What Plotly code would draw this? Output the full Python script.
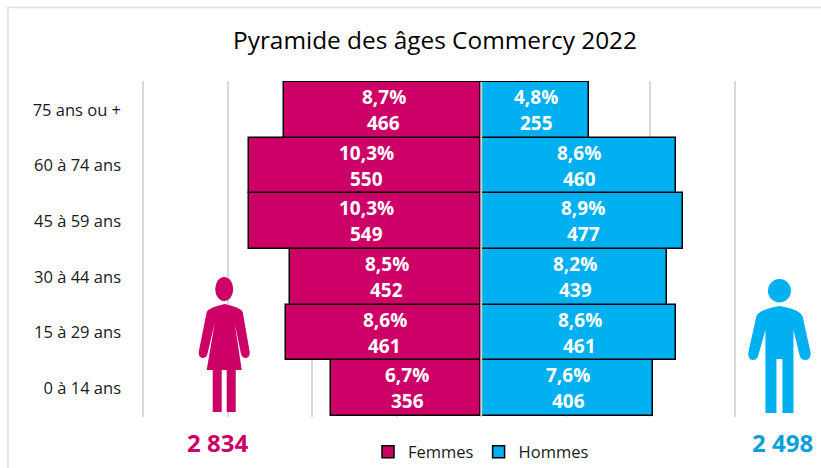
import re
import plotly.graph_objects as go

W, H = 821, 468
L, R, T, B = 141.4, 736.6, 81, 417

categories = ["0 à 14 ans", "15 à 29 ans", "30 à 44 ans", "45 à 59 ans", "60 à 74 ans", "75 ans ou +"]
femmes = [356, 461, 452, 549, 550, 466]
hommes = [406, 461, 439, 477, 460, 255]
femmes_pct = ["6,7%", "8,6%", "8,5%", "10,3%", "10,3%", "8,7%"]
hommes_pct = ["7,6%", "8,6%", "8,2%", "8,9%", "8,6%", "4,8%"]
total_femmes = "2 834"
total_hommes = "2 498"
title = "Pyramide des âges Commercy 2022"

ROSE, BLEU = "#CC0066", "#00B0F0"
FONT = "Open Sans"


def px(x):
    return (x - L) / (R - L)


def py(y):
    return (B - y) / (B - T)


def paper_path(p):
    # icon outlines are drawn in picture pixels, converted to paper space
    return re.sub(r"(-?[\d.]+),(-?[\d.]+)", lambda m: f"{px(float(m[1])):.5f},{py(float(m[2])):.5f}", p)


fig = go.Figure()
fig.add_bar(y=categories, x=[-v for v in femmes], name="Femmes", orientation="h", cliponaxis=False,
            marker=dict(color=ROSE, line=dict(color="black", width=1.5)), hoverinfo="skip")
fig.add_bar(y=categories, x=hommes, name="Hommes", orientation="h", cliponaxis=False,
            marker=dict(color=BLEU, line=dict(color="black", width=1.5)), hoverinfo="skip")

annotations = []
for cat, f, h, fp, hp in zip(categories, femmes, hommes, femmes_pct, hommes_pct):
    for x, a, b in ((-f / 2, fp, f), (h / 2, hp, h)):
        annotations.append(dict(x=x, y=cat, xref="x", yref="y", text=f"<b>{a}</b>", showarrow=False,
                                yshift=13, xshift=1, font=dict(family=FONT, size=19, color="white")))
        annotations.append(dict(x=x, y=cat, xref="x", yref="y", text=f"<b>{b}</b>", showarrow=False,
                                yshift=-13, xshift=1, font=dict(family=FONT, size=19, color="white")))
annotations.append(dict(x=px(218), y=py(442), xref="paper", yref="paper", xanchor="center", yanchor="middle",
                        text=f"<b>{total_femmes}</b>", showarrow=False,
                        font=dict(family=FONT, size=24, color=ROSE)))
annotations.append(dict(x=px(782), y=py(442), xref="paper", yref="paper", xanchor="center", yanchor="middle",
                        text=f"<b>{total_hommes}</b>", showarrow=False,
                        font=dict(family=FONT, size=24, color="#0F9EDC")))

WOMAN = ("M 207,312 Q 210,307 225,304 Q 240,307 243,312 L 250,352 Q 250,358 246,358 Q 242,358 241,353 "
         "L 235,323 L 242,370 L 236,370 L 236,412 L 227,412 L 227,370 L 222,370 L 222,412 L 213,412 "
         "L 213,370 L 207,370 L 215,323 L 208,353 Q 207,358 203,358 Q 199,358 199,352 Z")
MAN = ("M 756,316 Q 760,309 779,306 Q 798,309 802,316 L 810,352 Q 811,359 805,360 Q 800,360 799,355 "
       "L 793,330 L 793,413 L 782,413 L 782,359 L 776,359 L 776,413 L 765,413 L 765,330 L 758,355 "
       "Q 757,360 752,360 Q 747,359 748,352 Z")

shapes = [
    # outer frame
    dict(type="line", xref="paper", yref="paper", x0=px(8), x1=px(W), y0=py(7.5), y1=py(7.5),
         line=dict(color="#DEDEDE", width=1.5)),
    dict(type="line", xref="paper", yref="paper", x0=px(8.5), x1=px(8.5), y0=py(7), y1=py(H),
         line=dict(color="#DEDEDE", width=1.5)),
    # central axis
    dict(type="line", xref="x", yref="paper", x0=0, x1=0, y0=py(416), y1=py(82), layer="above",
         line=dict(color="#D0D0D0", width=2)),
    # pictograms
    dict(type="circle", xref="paper", yref="paper", x0=px(215.5), x1=px(233.5), y0=py(277), y1=py(301),
         fillcolor=ROSE, line_width=0),
    dict(type="path", xref="paper", yref="paper", path=paper_path(WOMAN), fillcolor=ROSE, line_width=0),
    dict(type="circle", xref="paper", yref="paper", x0=px(767.5), x1=px(790.5), y0=py(279), y1=py(302.5),
         fillcolor=BLEU, line_width=0),
    dict(type="path", xref="paper", yref="paper", path=paper_path(MAN), fillcolor=BLEU, line_width=0),
]

fig.update_layout(
    width=W, height=H,
    margin=dict(l=L, r=W - R, t=T, b=H - B, pad=0, autoexpand=False),
    paper_bgcolor="white", plot_bgcolor="white",
    barmode="relative", bargap=0,
    font=dict(family=FONT, color="#1a1a1a"),
    title=dict(text=title, x=435 / W, xanchor="center", y=1 - 40 / H, yanchor="middle",
               font=dict(family=FONT, size=24.4, color="black")),
    xaxis=dict(range=[-805, 605], dtick=200, tick0=0, showticklabels=False, ticks="",
               showgrid=True, gridcolor="#D9D9D9", gridwidth=1.5, zeroline=False, showline=False),
    yaxis=dict(categoryorder="array", categoryarray=categories, range=[-0.518, 5.518], ticks="",
               showgrid=False, zeroline=False, showline=False, ticklabelstandoff=19,
               tickfont=dict(family=FONT, size=16.5, color="#1a1a1a")),
    legend=dict(orientation="h", xref="container", yref="container", x=368 / W, xanchor="left",
                y=1 - 452 / H, yanchor="middle",
                font=dict(family=FONT, size=16.5, color="#1a1a1a"), bgcolor="rgba(0,0,0,0)", traceorder="normal"),
    annotations=annotations,
    shapes=shapes,
)
fig.write_html("out.html", config={"displayModeBar": False},
               post_script="document.body.style.margin='0';document.body.style.overflow='hidden';")
